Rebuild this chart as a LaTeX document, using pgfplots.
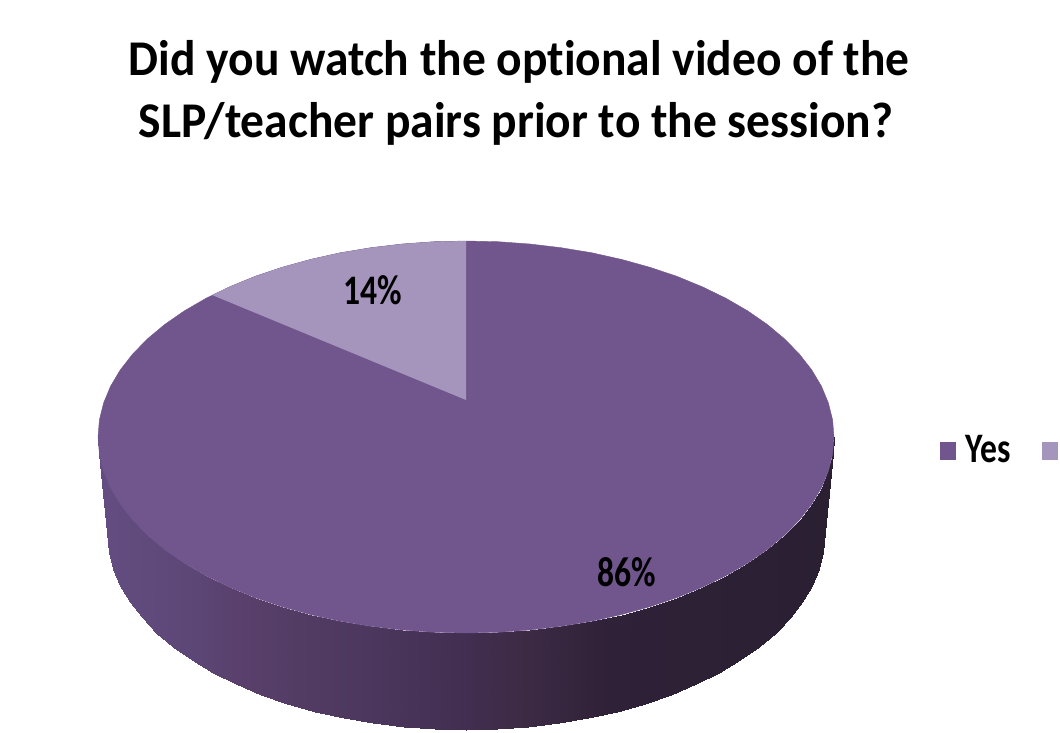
\documentclass[border=0pt]{standalone}
\usepackage{fontspec}
\setmainfont[Ligatures=NoCommon]{Carlito}
\usepackage{pgfplots}
\pgfplotsset{compat=1.18}
\definecolor{mainpie}{RGB}{112,86,140}
\definecolor{lightpie}{RGB}{165,148,188}
\begin{document}
\begin{tikzpicture}
\useasboundingbox (0,0) rectangle (1060pt,732pt);
\begin{axis}[
  at={(0,0)}, anchor=south west,
  scale only axis, width=1060pt, height=732pt,
  xmin=0, xmax=1060, ymin=0, ymax=732, y dir=reverse,
  axis lines=none, ticks=none,
  point meta min=98, point meta max=834,
  colormap={piewall}{
    rgb255(0pt)=(100,78,130);
    rgb255(100pt)=(91,70,117);
    rgb255(140pt)=(90,64,108);
    rgb255(200pt)=(82,60,100);
    rgb255(270pt)=(76,55,94);
    rgb255(370pt)=(65,46,80);
    rgb255(430pt)=(60,42,68);
    rgb255(510pt)=(47,33,56);
    rgb255(736pt)=(42,32,50)}
]
% side wall, front half
\addplot[patch, patch type=rectangle, shader=interp, point meta=x, forget plot] coordinates {
(98,437)(99.4,454.1)(109.4,552)(108,535)
(99.4,454.1)(103.6,471)(113.4,568.9)(109.4,552)
(103.6,471)(110.5,487.7)(120.2,585.5)(113.4,568.9)
(110.5,487.7)(120.2,504)(129.6,601.7)(120.2,585.5)
(120.2,504)(132.5,519.8)(141.5,617.4)(129.6,601.7)
(132.5,519.8)(147.3,535)(156,632.5)(141.5,617.4)
(147.3,535)(164.5,549.4)(172.7,646.9)(156,632.5)
(164.5,549.4)(184.1,563)(191.8,660.3)(172.7,646.9)
(184.1,563)(205.8,575.6)(212.9,672.9)(191.8,660.3)
(205.8,575.6)(229.4,587.1)(235.9,684.4)(212.9,672.9)
(229.4,587.1)(254.9,597.6)(260.7,694.7)(235.9,684.4)
(254.9,597.6)(282,606.7)(287,703.9)(260.7,694.7)
(282,606.7)(310.5,614.6)(314.7,711.7)(287,703.9)
(310.5,614.6)(340.1,621.2)(343.6,718.2)(314.7,711.7)
(340.1,621.2)(370.8,626.3)(373.3,723.4)(343.6,718.2)
(370.8,626.3)(402.1,630)(403.9,727)(373.3,723.4)
(402.1,630)(433.9,632.3)(434.8,729.3)(403.9,727)
(433.9,632.3)(466,633)(466,730)(434.8,729.3)
(466,633)(498.1,632.3)(497.2,729.3)(466,730)
(498.1,632.3)(529.9,630)(528.1,727)(497.2,729.3)
(529.9,630)(561.2,626.3)(558.7,723.4)(528.1,727)
(561.2,626.3)(591.9,621.2)(588.4,718.2)(558.7,723.4)
(591.9,621.2)(621.5,614.6)(617.3,711.7)(588.4,718.2)
(621.5,614.6)(650,606.7)(645,703.9)(617.3,711.7)
(650,606.7)(677.1,597.6)(671.3,694.7)(645,703.9)
(677.1,597.6)(702.6,587.1)(696.1,684.4)(671.3,694.7)
(702.6,587.1)(726.2,575.6)(719.1,672.9)(696.1,684.4)
(726.2,575.6)(747.9,563)(740.2,660.3)(719.1,672.9)
(747.9,563)(767.5,549.4)(759.3,646.9)(740.2,660.3)
(767.5,549.4)(784.7,535)(776,632.5)(759.3,646.9)
(784.7,535)(799.5,519.8)(790.5,617.4)(776,632.5)
(799.5,519.8)(811.8,504)(802.4,601.7)(790.5,617.4)
(811.8,504)(821.5,487.7)(811.8,585.5)(802.4,601.7)
(821.5,487.7)(828.4,471)(818.6,568.9)(811.8,585.5)
(828.4,471)(832.6,454.1)(822.6,552)(818.6,568.9)
(832.6,454.1)(834,437)(824,535)(822.6,552)
};
% top face: Yes, 86%
\addplot[fill=mainpie, draw=mainpie, line width=0.4pt, forget plot] coordinates {
(834,437)(832.6,454.1)(828.4,471)(821.5,487.7)(811.8,504)(799.5,519.8)(784.7,535)(767.5,549.4)(747.9,563)(726.2,575.6)(702.6,587.1)(677.1,597.6)(650,606.7)(621.5,614.6)(591.9,621.2)(561.2,626.3)(529.9,630)(498.1,632.3)(466,633)
(433.9,632.3)(402.1,630)(370.8,626.3)(340.1,621.2)(310.5,614.6)(282,606.7)(254.9,597.6)(229.4,587.1)(205.8,575.6)(184.1,563)(164.5,549.4)(147.3,535)(132.5,519.8)(120.2,504)(110.5,487.7)(103.6,471)(99.4,454.1)(98,437)
(99.4,419.9)(103.6,403)(110.5,386.3)(120.2,370)(132.5,354.2)(147.3,339)(164.5,324.6)(184.1,311)(205.8,298.4)(229.4,286.9)(254.9,276.4)(282,267.3)(310.5,259.4)(340.1,252.8)(370.8,247.7)(402.1,244)(433.9,241.7)(466,241)
(498.1,241.7)(529.9,244)(561.2,247.7)(591.9,252.8)(621.5,259.4)(650,267.3)(677.1,276.4)(702.6,286.9)(726.2,298.4)(747.9,311)(767.5,324.6)(784.7,339)(799.5,354.2)(811.8,370)(821.5,386.3)(828.4,403)(832.6,419.9)(834,437)
} -- cycle;
% top face: No, 14%
\addplot[fill=lightpie, draw=none, forget plot] coordinates {
(466,400)(466,241)(433.9,241.7)(402.1,244)(370.8,247.7)(340.1,252.8)(310.5,259.4)(282,267.3)(254.9,276.4)(229.4,286.9)(212,295)
} -- cycle;
% legend swatches
\addplot[fill=mainpie, draw=none, forget plot] coordinates {(940,442)(956,442)(956,460)(940,460)} -- cycle;
\addplot[fill=lightpie, draw=none, forget plot] coordinates {(1042,442)(1058,442)(1058,460)(1042,460)} -- cycle;
% text
\node[font=\fontsize{50}{50}\selectfont\bfseries, xscale=0.95, text=black, inner sep=0pt] at (axis cs:519,62) {Did you watch the optional video of the};
\node[font=\fontsize{50}{50}\selectfont\bfseries, xscale=0.95, text=black, inner sep=0pt] at (axis cs:516,124) {SLP/teacher pairs prior to the session?};
\node[font=\fontsize{42}{42}\selectfont\bfseries, xscale=0.8, text=black, inner sep=0pt] at (axis cs:373,290) {14\%};
\node[font=\fontsize{42}{42}\selectfont\bfseries, xscale=0.8, text=black, inner sep=0pt] at (axis cs:627,572) {86\%};
\node[font=\fontsize{42}{42}\selectfont\bfseries, xscale=0.8, text=black, inner sep=0pt] at (axis cs:988,449) {Yes};
\end{axis}
\end{tikzpicture}
\end{document}
